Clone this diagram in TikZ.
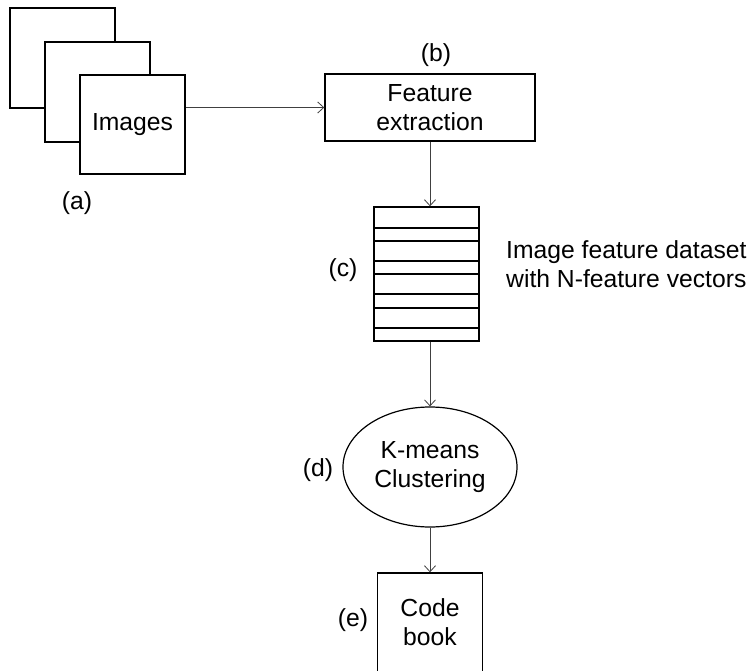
\documentclass[tikz,border=0pt]{standalone}
\usepackage{fontspec}
\setmainfont{Liberation Sans}
\usetikzlibrary{arrows.meta,shapes.geometric}
\begin{document}
\begin{tikzpicture}[x=1pt,y=-1pt,
  box/.style={draw,line width=1.4pt,inner sep=0pt,align=center},
  conn/.style={draw=black!75,line width=0.8pt,-{Straight Barb[length=6pt,width=11pt,line width=0.8pt]}},
  lbl/.style={inner sep=0pt,align=center},
  every node/.style={font=\fontsize{24.7}{29}\selectfont}]
\useasboundingbox (0,0) rectangle (750,670);
\clip (0,0) rectangle (750,670);
% stacked image squares
\draw[line width=1.4pt,fill=white] (10,8) rectangle (115,108);
\draw[line width=1.4pt,fill=white] (45,42) rectangle (150,142);
\node[box,fill=white,minimum width=105pt,minimum height=99pt] (images) at (132.5,124.5) {Images};
\node[lbl] (la) at (77,203) {(a)};
% feature extraction
\node[box,minimum width=210pt,minimum height=67pt] (feat) at (430,107.5) {Feature\\extraction};
\node[lbl] (lb) at (436,55) {(b)};
% dataset stack
\node[box,minimum width=105pt,minimum height=134pt] (stack) at (426.5,274) {};
\foreach \yy in {228,241,261,274,294,308,328}
  \draw[line width=1.4pt] (374,\yy) -- (479,\yy);
\node[lbl] (lc) at (343,270) {(c)};
\node[lbl,anchor=west,align=left] (ldata) at (506,264) {Image feature dataset\\with N-feature vectors};
% k-means
\node[draw,ellipse,line width=1.2pt,inner sep=0pt,align=center,minimum width=174pt,minimum height=120pt] (kmeans) at (430,467) {K-means\\Clustering};
\node[lbl] (ld) at (318,470) {(d)};
% code book
\node[box,minimum width=105pt,minimum height=110pt] (code) at (430,628) {};
\node[lbl] (codetxt) at (430,622) {Code\\book};
\node[lbl] (le) at (353,620) {(e)};
% connectors
\draw[conn] (images.east |- feat.west) -- (feat.west);
\draw[conn] (feat.south) -- (feat.south |- stack.north);
\draw[conn] (stack.south -| kmeans.north) -- (kmeans.north);
\draw[conn] (kmeans.south) -- (code.north);
\end{tikzpicture}
\end{document}
